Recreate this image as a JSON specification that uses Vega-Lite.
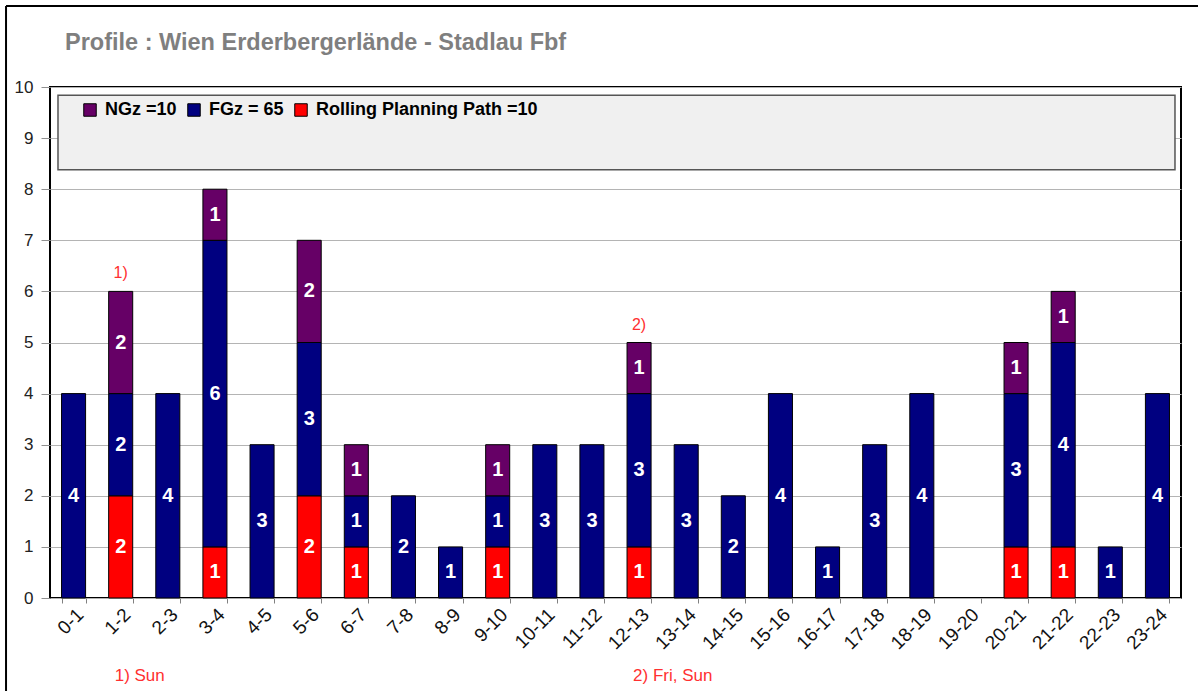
{
  "$schema": "https://vega.github.io/schema/vega-lite/v6.json",
  "width": 1131,
  "height": 511,
  "autosize": "none",
  "padding": {"left": 50, "top": 87, "right": 17, "bottom": 93},
  "background": "white",
  "title": {
    "text": "Profile : Wien Erderbergerlände - Stadlau Fbf",
    "anchor": "start",
    "frame": "group",
    "dx": 15,
    "offset": -49,
    "font": "Liberation Sans",
    "fontSize": 23.5,
    "fontWeight": "bold",
    "color": "#7f7f7f"
  },
  "datasets": {
    "trains": [
      {"hour": "0-1", "series": "FGz", "level": 2, "n": 4},
      {"hour": "1-2", "series": "Rolling Planning Path", "level": 1, "n": 2},
      {"hour": "1-2", "series": "FGz", "level": 2, "n": 2},
      {"hour": "1-2", "series": "NGz", "level": 3, "n": 2},
      {"hour": "2-3", "series": "FGz", "level": 2, "n": 4},
      {"hour": "3-4", "series": "Rolling Planning Path", "level": 1, "n": 1},
      {"hour": "3-4", "series": "FGz", "level": 2, "n": 6},
      {"hour": "3-4", "series": "NGz", "level": 3, "n": 1},
      {"hour": "4-5", "series": "FGz", "level": 2, "n": 3},
      {"hour": "5-6", "series": "Rolling Planning Path", "level": 1, "n": 2},
      {"hour": "5-6", "series": "FGz", "level": 2, "n": 3},
      {"hour": "5-6", "series": "NGz", "level": 3, "n": 2},
      {"hour": "6-7", "series": "Rolling Planning Path", "level": 1, "n": 1},
      {"hour": "6-7", "series": "FGz", "level": 2, "n": 1},
      {"hour": "6-7", "series": "NGz", "level": 3, "n": 1},
      {"hour": "7-8", "series": "FGz", "level": 2, "n": 2},
      {"hour": "8-9", "series": "FGz", "level": 2, "n": 1},
      {"hour": "9-10", "series": "Rolling Planning Path", "level": 1, "n": 1},
      {"hour": "9-10", "series": "FGz", "level": 2, "n": 1},
      {"hour": "9-10", "series": "NGz", "level": 3, "n": 1},
      {"hour": "10-11", "series": "FGz", "level": 2, "n": 3},
      {"hour": "11-12", "series": "FGz", "level": 2, "n": 3},
      {"hour": "12-13", "series": "Rolling Planning Path", "level": 1, "n": 1},
      {"hour": "12-13", "series": "FGz", "level": 2, "n": 3},
      {"hour": "12-13", "series": "NGz", "level": 3, "n": 1},
      {"hour": "13-14", "series": "FGz", "level": 2, "n": 3},
      {"hour": "14-15", "series": "FGz", "level": 2, "n": 2},
      {"hour": "15-16", "series": "FGz", "level": 2, "n": 4},
      {"hour": "16-17", "series": "FGz", "level": 2, "n": 1},
      {"hour": "17-18", "series": "FGz", "level": 2, "n": 3},
      {"hour": "18-19", "series": "FGz", "level": 2, "n": 4},
      {"hour": "19-20", "series": "FGz", "level": 2, "n": 0},
      {"hour": "20-21", "series": "Rolling Planning Path", "level": 1, "n": 1},
      {"hour": "20-21", "series": "FGz", "level": 2, "n": 3},
      {"hour": "20-21", "series": "NGz", "level": 3, "n": 1},
      {"hour": "21-22", "series": "Rolling Planning Path", "level": 1, "n": 1},
      {"hour": "21-22", "series": "FGz", "level": 2, "n": 4},
      {"hour": "21-22", "series": "NGz", "level": 3, "n": 1},
      {"hour": "22-23", "series": "FGz", "level": 2, "n": 1},
      {"hour": "23-24", "series": "FGz", "level": 2, "n": 4}
    ],
    "notes": [
      {"hour": "1-2", "total": 6, "ref": "1)", "note": "1) Sun"},
      {"hour": "12-13", "total": 5, "ref": "2)", "note": "2) Fri, Sun"}
    ]
  },
  "config": {
    "font": "Liberation Sans",
    "view": {"stroke": "#000000", "strokeWidth": 2},
    "axisX": {
      "labelAngle": -45,
      "labelFontSize": 19,
      "labelColor": "#111111",
      "tickBand": "extent",
      "tickColor": "#808080",
      "tickSize": 5,
      "domain": false,
      "grid": false,
      "labelPadding": 2
    },
    "axisY": {
      "labelFontSize": 17,
      "labelColor": "#222222",
      "tickColor": "#909090",
      "tickSize": 9,
      "labelPadding": 8,
      "domain": false,
      "grid": true,
      "gridColor": "#b4b4b4",
      "gridWidth": 1,
      "tickCount": 10
    },
    "legend": {
      "orient": "none",
      "legendX": 31,
      "legendY": 14,
      "direction": "horizontal",
      "padding": 0,
      "columnPadding": 8,
      "symbolType": "square",
      "symbolSize": 156,
      "symbolStrokeColor": "#000000",
      "symbolStrokeWidth": 1,
      "labelFont": "Liberation Sans",
      "labelFontSize": 18,
      "labelFontWeight": "bold",
      "labelColor": "#000000",
      "labelOffset": 6,
      "labelLimit": 400
    }
  },
  "encoding": {
    "x": {
      "field": "hour",
      "type": "nominal",
      "sort": null,
      "scale": {
        "domain": ["0-1","1-2","2-3","3-4","4-5","5-6","6-7","7-8","8-9","9-10","10-11","11-12","12-13","13-14","14-15","15-16","16-17","17-18","18-19","19-20","20-21","21-22","22-23","23-24"],
        "paddingInner": 0.49,
        "paddingOuter": 0.245
      },
      "axis": {"title": null}
    }
  },
  "layer": [
    {
      "data": {"values": [{"frame": "outer"}]},
      "layer": [
        {
          "mark": {"type": "rule", "stroke": "#000000", "strokeWidth": 2},
          "encoding": {
            "x": {"datum": "0-1", "bandPosition": -2.31},
            "x2": {"datum": "23-24", "bandPosition": 2.2},
            "y": {"datum": 11.585, "type": "quantitative", "scale": {"domain": [0, 10], "nice": false}, "axis": {"title": null}}
          }
        },
        {
          "mark": {"type": "rule", "stroke": "#000000", "strokeWidth": 2},
          "encoding": {
            "x": {"datum": "0-1", "bandPosition": -2.31},
            "y": {"datum": 11.585, "type": "quantitative"},
            "y2": {"datum": -1.9}
          }
        }
      ]
    },
    {
      "data": {"values": [{"box": "legend"}]},
      "mark": {"type": "rect", "fill": "#f0f0f0", "stroke": "#555555", "strokeWidth": 1.5},
      "encoding": {
        "x": {"datum": "0-1", "bandPosition": -0.148},
        "x2": {"datum": "23-24", "bandPosition": 1.23},
        "y": {"datum": 8.38, "type": "quantitative"},
        "y2": {"datum": 9.84}
      }
    },
    {
      "data": {"name": "trains"},
      "transform": [
        {"filter": "datum.n > 0"},
        {"stack": "n", "groupby": ["hour"], "sort": [{"field": "level", "order": "ascending"}], "as": ["v0", "v1"]},
        {"calculate": "(datum.v0 + datum.v1) / 2", "as": "vmid"}
      ],
      "layer": [
        {
          "mark": {"type": "bar", "stroke": "#000000", "strokeWidth": 1},
          "encoding": {
            "y": {"field": "v0", "type": "quantitative", "axis": {"title": null}},
            "y2": {"field": "v1"},
            "color": {
              "field": "series",
              "type": "nominal",
              "scale": {"domain": ["NGz", "FGz", "Rolling Planning Path"], "range": ["#660066", "#000080", "#ff0000"]},
              "legend": {
                "title": null,
                "labelExpr": "datum.value == 'NGz' ? 'NGz =10' : datum.value == 'FGz' ? 'FGz = 65' : 'Rolling Planning Path =10'"
              }
            }
          }
        },
        {
          "mark": {"type": "text", "color": "#ffffff", "fontSize": 20, "fontWeight": "bold", "baseline": "middle"},
          "encoding": {
            "y": {"field": "vmid", "type": "quantitative", "axis": {"title": null}},
            "text": {"field": "n", "type": "quantitative"}
          }
        }
      ]
    },
    {
      "data": {"name": "notes"},
      "layer": [
        {
          "mark": {"type": "text", "color": "#ff3030", "fontSize": 16, "baseline": "middle", "dy": -18},
          "encoding": {
            "y": {"field": "total", "type": "quantitative", "axis": {"title": null}},
            "text": {"field": "ref"}
          }
        },
        {
          "mark": {"type": "text", "color": "#ff3030", "fontSize": 17, "align": "left", "baseline": "middle", "dx": -6},
          "encoding": {
            "y": {"datum": -1.52, "type": "quantitative"},
            "text": {"field": "note"}
          }
        }
      ]
    }
  ]
}
